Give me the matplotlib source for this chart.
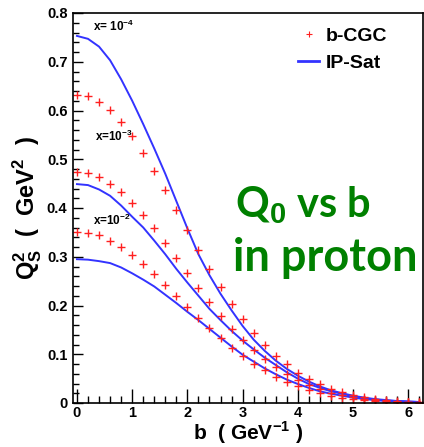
import matplotlib
matplotlib.use('Agg')
import matplotlib.pyplot as plt
from matplotlib.lines import Line2D
from matplotlib.ticker import MultipleLocator
import numpy as np

plt.rcParams['font.family'] = ['Liberation Sans', 'DejaVu Sans']
plt.rcParams['mathtext.fontset'] = 'custom'
plt.rcParams['mathtext.bf'] = 'Liberation Sans:bold'
plt.rcParams['mathtext.rm'] = 'Liberation Sans:bold'

# impact parameter grid (GeV^-1)
b = [0.0, 0.2, 0.4, 0.6, 0.8, 1.0, 1.2, 1.4, 1.6, 1.8, 2.0, 2.2, 2.4, 2.6, 2.8, 3.0,
     3.2, 3.4, 3.6, 3.8, 4.0, 4.2, 4.4, 4.6, 4.8, 5.0, 5.2, 5.4, 5.6, 5.8, 6.0, 6.2]

# b-CGC points
cgc_x4 = [0.632, 0.629, 0.618, 0.601, 0.576, 0.547, 0.513, 0.476, 0.437, 0.395, 0.355,
          0.314, 0.274, 0.237, 0.204, 0.172, 0.144, 0.118, 0.097, 0.079, 0.062, 0.049,
          0.038, 0.029, 0.023, 0.017, 0.012, 0.009, 0.006, 0.004, 0.003, 0.002]
cgc_x3 = [0.474, 0.472, 0.463, 0.450, 0.432, 0.411, 0.385, 0.358, 0.328, 0.297, 0.266,
          0.235, 0.207, 0.178, 0.152, 0.129, 0.108, 0.090, 0.073, 0.059, 0.047, 0.036,
          0.028, 0.021, 0.016, 0.012, 0.009, 0.006, 0.004, 0.003, 0.002, 0.0015]
cgc_x2 = [0.350, 0.349, 0.344, 0.333, 0.321, 0.304, 0.285, 0.264, 0.242, 0.220, 0.196,
          0.174, 0.153, 0.133, 0.113, 0.096, 0.080, 0.067, 0.054, 0.043, 0.034, 0.026,
          0.020, 0.015, 0.011, 0.008, 0.006, 0.004, 0.003, 0.002, 0.0015, 0.001]

# IP-Sat curves
ips_x4 = [0.753, 0.747, 0.731, 0.703, 0.664, 0.620, 0.572, 0.522, 0.470, 0.414, 0.358,
          0.305, 0.262, 0.224, 0.190, 0.158, 0.130, 0.107, 0.087, 0.070, 0.056, 0.044,
          0.034, 0.026, 0.020, 0.015, 0.011, 0.008, 0.006, 0.004, 0.003, 0.002]
ips_x3 = [0.449, 0.447, 0.438, 0.425, 0.405, 0.382, 0.360, 0.333, 0.305, 0.275, 0.247,
          0.220, 0.193, 0.170, 0.148, 0.128, 0.110, 0.093, 0.078, 0.063, 0.050, 0.039,
          0.031, 0.024, 0.019, 0.014, 0.010, 0.007, 0.005, 0.004, 0.003, 0.002]
ips_x2 = [0.295, 0.294, 0.291, 0.287, 0.278, 0.266, 0.253, 0.239, 0.222, 0.205, 0.187,
          0.170, 0.152, 0.134, 0.116, 0.099, 0.085, 0.071, 0.059, 0.048, 0.039, 0.031,
          0.024, 0.019, 0.015, 0.011, 0.008, 0.006, 0.004, 0.003, 0.002, 0.0015]

blue = '#3333ff'
red = '#ff2020'

fig = plt.figure(figsize=(4.24, 4.47), dpi=100)
ax = fig.add_axes([73/424, 1-403/447, 1-73/424-0.002, (403-13)/447])

for y in [ips_x4, ips_x3, ips_x2]:
    ax.plot(b, y, color=blue, lw=1.4)
for y in [cgc_x4, cgc_x3, cgc_x2]:
    ax.plot(b, y, ls='none', marker='+', color=red, ms=6, mew=1.0)

ax.set_xlim(-0.072, 6.27)
ax.set_ylim(0, 0.8)

ax.xaxis.set_major_locator(MultipleLocator(1))
ax.xaxis.set_minor_locator(MultipleLocator(0.2))
ax.yaxis.set_major_locator(MultipleLocator(0.1))
ax.yaxis.set_minor_locator(MultipleLocator(0.02))
ax.tick_params(which='both', direction='in', top=False, right=False, width=1.0)
ax.tick_params(axis='x', which='major', length=10, pad=2)
ax.tick_params(axis='x', which='minor', length=5)
ax.tick_params(axis='y', which='major', length=7, pad=4)
ax.tick_params(axis='y', which='minor', length=4)
ax.set_xticks([0, 1, 2, 3, 4, 5, 6])
ax.set_xticklabels(['0', '1', '2', '3', '4', '5', '6'], fontsize=10.5, fontweight='bold')
ax.set_yticks([0, 0.1, 0.2, 0.3, 0.4, 0.5, 0.6, 0.7, 0.8])
ax.set_yticklabels(['0', '0.1', '0.2', '0.3', '0.4', '0.5', '0.6', '0.7', '0.8'],
                   fontsize=10.5, fontweight='bold')
for s in ax.spines.values():
    s.set_linewidth(1.2)

ax.set_xlabel(r'b  ( GeV$^{\mathbf{-1}}$ )', fontsize=15, fontweight='bold', labelpad=0)
ax.set_ylabel(r'Q$_{\mathbf{S}}^{\mathbf{2}}$  (  GeV$^{\mathbf{2}}$  )', fontsize=17,
              fontweight='bold', labelpad=2)

ax.text(0.29, 0.773, r'x= 10$^{\mathbf{-4}}$', fontsize=8.5, fontweight='bold', va='center')
ax.text(0.33, 0.546, r'x=10$^{\mathbf{-3}}$', fontsize=8.5, fontweight='bold', va='center')
ax.text(0.29, 0.375, r'x=10$^{\mathbf{-2}}$', fontsize=8.5, fontweight='bold', va='center')

handles = [Line2D([], [], ls='none', marker='+', color=red, ms=4, mew=0.8),
           Line2D([], [], color=blue, lw=2)]
ax.legend(handles, ['b-CGC', 'IP-Sat'], loc='upper left',
          bbox_to_anchor=(298/424, 1-27/447), bbox_transform=fig.transFigure,
          frameon=False, prop={'weight': 'bold', 'size': 14},
          handlelength=1.1, handletextpad=0.35, labelspacing=0.5, borderpad=0,
          borderaxespad=0)

fig.text(235/424, 1-205/447, r'Q$_\mathbf{0}$ vs b', color='#008000', fontsize=30,
         fontweight='bold', family='Lato', va='center')
fig.text(233/424, 1-258/447, 'in proton', color='#008000', fontsize=32.5,
         fontweight='bold', family='Lato', va='center')

fig.savefig('out.png', dpi=100)
